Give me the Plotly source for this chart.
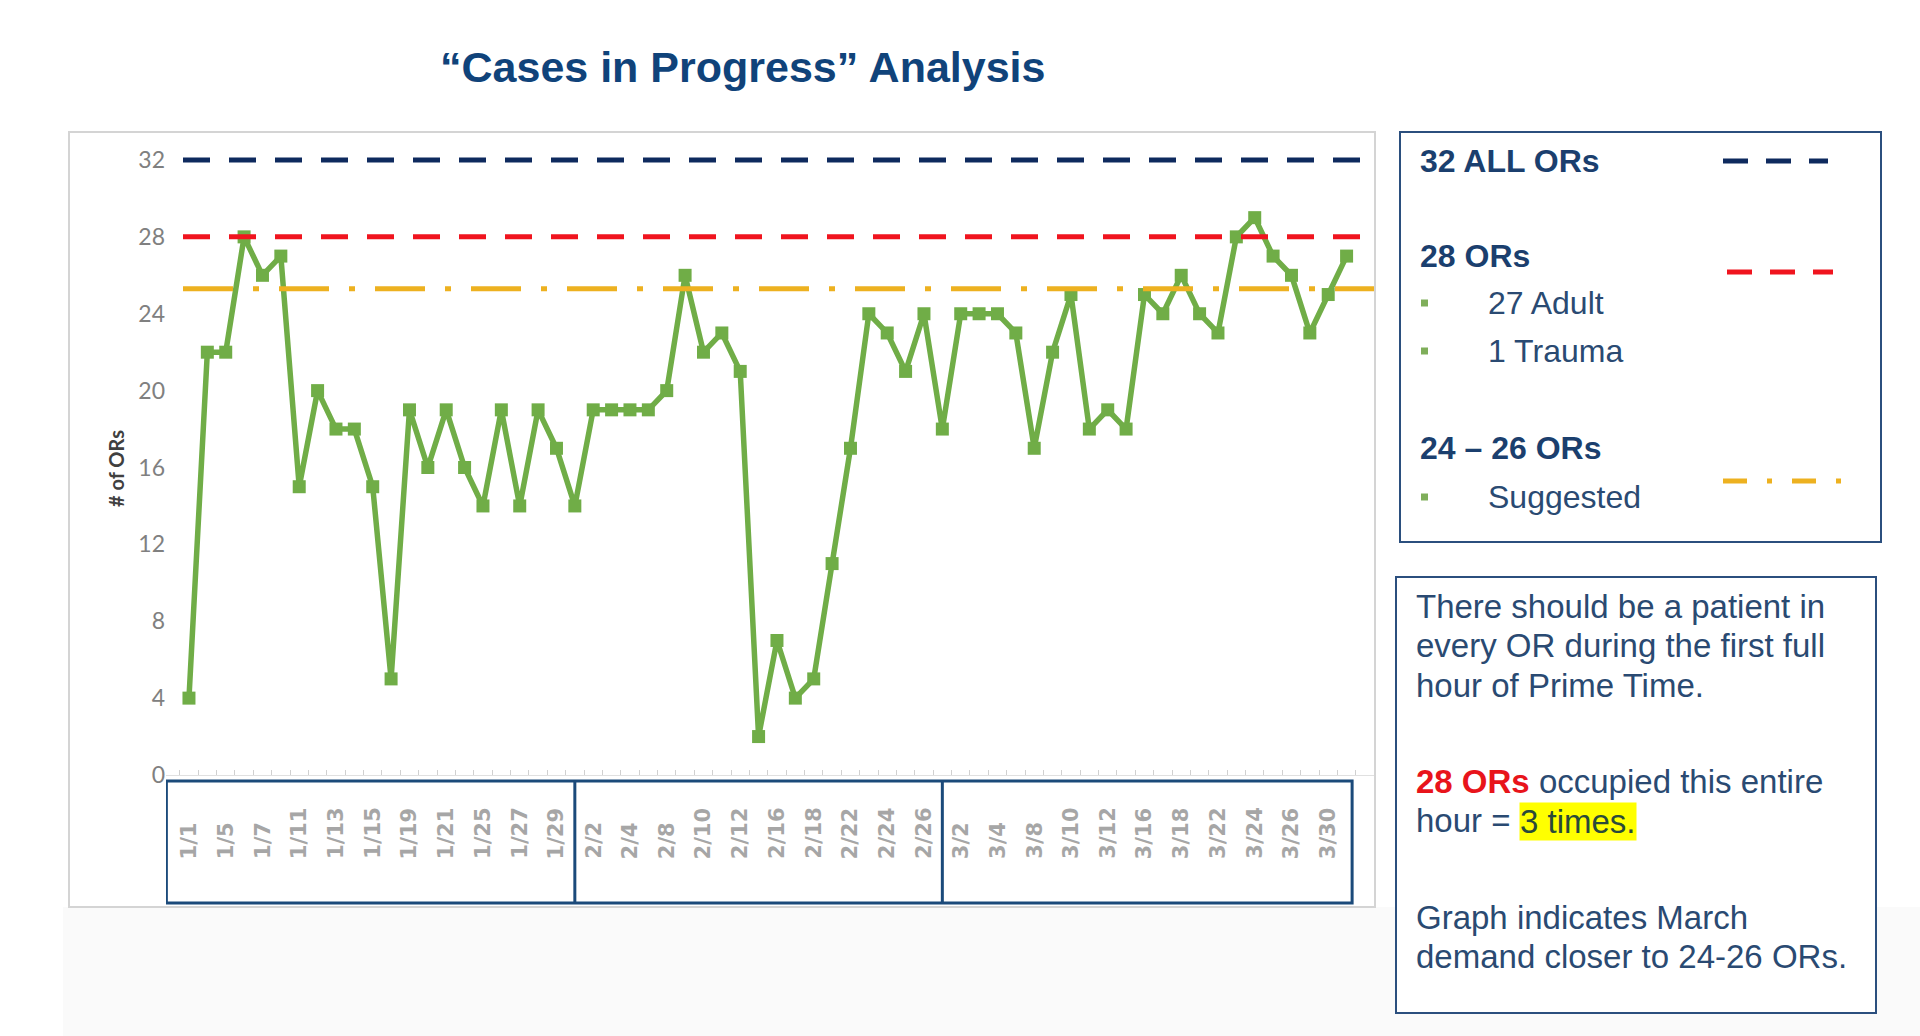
import plotly.graph_objects as go

W, H = 1920, 1036


def px(x):
    return x / W


def py(y):
    return 1 - y / H


# ---------------- data ----------------
dates = ["1/1", "1/4", "1/5", "1/6", "1/7", "1/10", "1/11", "1/12", "1/13", "1/14",
         "1/15", "1/18", "1/19", "1/20", "1/21", "1/24", "1/25", "1/26", "1/27", "1/28",
         "1/29", "2/1", "2/2", "2/3", "2/4", "2/7", "2/8", "2/9", "2/10", "2/11",
         "2/12", "2/15", "2/16", "2/17", "2/18", "2/21", "2/22", "2/23", "2/24", "2/25",
         "2/26", "3/1", "3/2", "3/3", "3/4", "3/7", "3/8", "3/9", "3/10", "3/11",
         "3/12", "3/15", "3/16", "3/17", "3/18", "3/21", "3/22", "3/23", "3/24", "3/25",
         "3/26", "3/29", "3/30", "3/31"]
cases = [4, 22, 22, 28, 26, 27, 15, 20, 18, 18, 15, 5, 19, 16, 19, 16, 14, 19, 14, 19, 17, 14,
         19, 19, 19, 19, 20, 26, 22, 23, 21, 2, 7, 4, 5, 11, 17, 24, 23, 21, 24, 18, 24, 24, 24, 23, 17, 22,
         25, 18, 19, 18, 25, 24, 26, 24, 23, 28, 29, 27, 26, 23, 25, 27]
shown_labels = dates[::2]
y_ticks = [0, 4, 8, 12, 16, 20, 24, 28, 32]
ref_levels = [32, 28, 25.3]
ref_colors = ["#0E2A5E", "#F0141E", "#EDB120"]
ref_dashes = ["27px,19px", "27px,19px", "50px,20px,6px,20px"]

GREEN = "#70AD47"
NAVY = "#1B3F6E"
TXT = "#2A4A72"

# plot-area geometry (pixels)
X_LEFT, X_RIGHT = 166, 1374
STEP = 18.375
X_LO = -1.25
x_hi = X_LO + (X_RIGHT - X_LEFT) / STEP
Y_ZERO, Y_TOP32 = 775, 160
UNIT = (Y_ZERO - Y_TOP32) / 32.0
Y_MAX = 33.5
Y_TOP = Y_ZERO - Y_MAX * UNIT

fig = go.Figure()
fig.add_trace(go.Scatter(
    x=dates, y=cases, mode="lines+markers",
    line=dict(color=GREEN, width=5.5),
    marker=dict(symbol="square", size=13, color=GREEN),
    showlegend=False, cliponaxis=False,
))

shapes = []
# light slide band at bottom
shapes.append(dict(type="rect", xref="paper", yref="paper", x0=px(63), x1=1, y0=0, y1=py(907),
                   fillcolor="#FAFAFA", line=dict(width=0), layer="below"))
# chart frame
shapes.append(dict(type="rect", xref="paper", yref="paper", x0=px(69), x1=px(1375), y0=py(907), y1=py(132),
                   fillcolor="white", line=dict(color="#D4D4D4", width=2), layer="below"))
# reference lines
for lvl, col, dsh in zip(ref_levels, ref_colors, ref_dashes):
    shapes.append(dict(type="line", xref="x domain", yref="y", x0=(183 - X_LEFT) / (X_RIGHT - X_LEFT), x1=1,
                       y0=lvl, y1=lvl, line=dict(color=col, width=5, dash=dsh), layer="above"))

# month group boxes under the axis
months = [int(d.split("/")[0]) for d in dates]
bounds = [i for i in range(1, len(months)) if months[i] != months[i - 1]]
BOX = "#1B4A7A"
shapes.append(dict(type="rect", xref="x", yref="paper", x0=X_LO + 0.02, x1=len(dates) - 0.7,
                   y0=py(903), y1=py(781), line=dict(color=BOX, width=3), layer="above"))
for b in bounds:
    shapes.append(dict(type="line", xref="x", yref="paper", x0=b, x1=b, y0=py(903), y1=py(781),
                       line=dict(color=BOX, width=3), layer="above"))

# legend box
shapes.append(dict(type="rect", xref="paper", yref="paper", x0=px(1400), x1=px(1881), y0=py(542), y1=py(132),
                   line=dict(color="#2B4F7E", width=2), fillcolor="white", layer="below"))
# legend sample lines
for (x0, x1, yy), col, dsh in zip([(1723, 1828, 161), (1727, 1833, 272), (1723, 1843, 481)],
                                   ref_colors, ["25px,18px", "25px,18px", "24px,20px,5px,20px"]):
    shapes.append(dict(type="line", xref="paper", yref="paper", x0=px(x0), x1=px(x1), y0=py(yy), y1=py(yy),
                       line=dict(color=col, width=5, dash=dsh)))
# bullets
for yy in [303, 351, 497]:
    shapes.append(dict(type="rect", xref="paper", yref="paper", x0=px(1421), x1=px(1428),
                       y0=py(yy + 3.5), y1=py(yy - 3.5), fillcolor="#7FAE5A", line=dict(width=0)))
# text box
shapes.append(dict(type="rect", xref="paper", yref="paper", x0=px(1396), x1=px(1876), y0=py(1013), y1=py(577),
                   line=dict(color="#2B4F7E", width=2), fillcolor="white", layer="below"))

annotations = []
# title
annotations.append(dict(text="<b>\u201cCases in Progress\u201d Analysis</b>", x=px(742), y=py(67),
                        xref="paper", yref="paper", showarrow=False, xanchor="center", yanchor="middle",
                        font=dict(family="Liberation Sans, Arial", size=43, color="#10437A")))
# y axis title
annotations.append(dict(text="<b># of ORs</b>", x=px(116), y=py(469), xref="paper", yref="paper",
                        showarrow=False, textangle=-90, xanchor="center", yanchor="middle",
                        font=dict(family="Lato", size=20, color="#404040")))
# x tick labels (bottom aligned, rotated)
for lab in shown_labels:
    annotations.append(dict(text="<b>" + lab + "</b>", x=lab, xref="x", y=py(861), yref="paper",
                            showarrow=False, textangle=-90, xanchor="center", yanchor="bottom",
                            font=dict(family="DejaVu Sans", size=21, color="#A6A6A6")))

# legend texts
leg = [("<b>32 ALL ORs</b>", 1418, 161, NAVY),
       ("<b>28 ORs</b>", 1418, 256, NAVY),
       ("27 Adult", 1486, 303, TXT),
       ("1 Trauma", 1486, 351, TXT),
       ("<b>24 \u2013 26 ORs</b>", 1418, 448, NAVY),
       ("Suggested", 1486, 497, TXT)]
for t, x, y, c in leg:
    annotations.append(dict(text=t, x=px(x), y=py(y), xref="paper", yref="paper", showarrow=False,
                            xanchor="left", yanchor="middle",
                            font=dict(family="Liberation Sans, Arial", size=32, color=c)))

# note box texts
notes = [("There should be a patient in", 606),
         ("every OR during the first full", 645),
         ("hour of Prime Time.", 685),
         ("<span style='color:#E8141B'><b>28 ORs</b></span> occupied this entire", 781),
         ("hour = ", 820),
         ("Graph indicates March", 917),
         ("demand closer to 24-26 ORs.", 956)]
for t, y in notes:
    annotations.append(dict(text=t, x=px(1414), y=py(y), xref="paper", yref="paper", showarrow=False,
                            xanchor="left", yanchor="middle",
                            font=dict(family="Liberation Sans, Arial", size=33, color=TXT)))
annotations.append(dict(text="3 times.", x=px(1519), y=py(821), xref="paper", yref="paper", showarrow=False,
                        xanchor="left", yanchor="middle", bgcolor="#FFFF00", borderpad=0,
                        font=dict(family="Liberation Sans, Arial", size=33, color="#2A4A3A")))

fig.update_layout(
    width=W, height=H, margin=dict(l=0, r=0, t=0, b=0, pad=0, autoexpand=False),
    paper_bgcolor="white", plot_bgcolor="rgba(0,0,0,0)",
    shapes=shapes, annotations=annotations, showlegend=False,
    xaxis=dict(domain=[px(X_LEFT), px(X_RIGHT)], type="category", range=[X_LO, x_hi],
               showticklabels=False, ticks="inside", ticklen=5, tickcolor="#D0D0D0",
               tickson="boundaries", showgrid=False, zeroline=False, automargin=False,
               showline=True, linecolor="#E0E0E0", linewidth=1, fixedrange=True),
    yaxis=dict(domain=[py(Y_ZERO), py(Y_TOP)], range=[0, Y_MAX], tickvals=y_ticks,
               tickfont=dict(family="Lato", size=23, color="#808080"),
               showgrid=False, zeroline=False, showline=False, ticks="", automargin=False,
               ticklabelstandoff=0, fixedrange=True),
)

fig.write_html("out.html", config={"displayModeBar": False},
               post_script="document.body.style.margin='0';document.body.style.overflow='hidden';")
